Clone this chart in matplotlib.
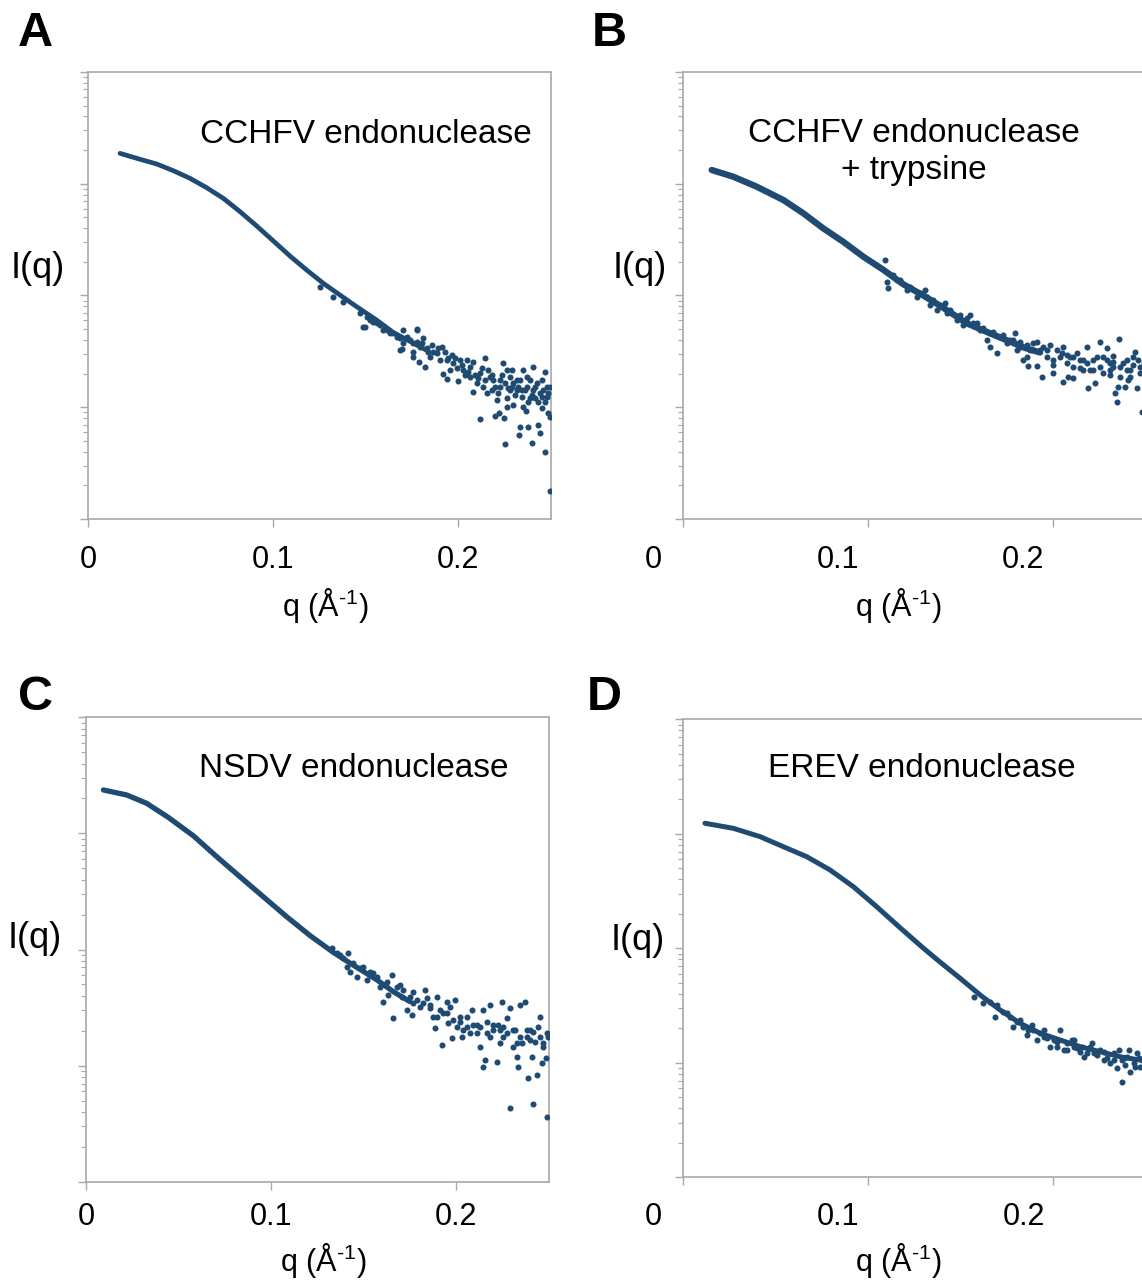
import numpy as np
import matplotlib
matplotlib.use('Agg')
import matplotlib.pyplot as plt
from matplotlib.ticker import LogLocator, NullFormatter, NullLocator, FixedLocator

plt.rcParams['font.family'] = ['Liberation Sans', 'DejaVu Sans']
plt.rcParams['mathtext.fontset'] = 'custom'
plt.rcParams['mathtext.rm'] = 'Liberation Sans'

# SAXS curves, q in 1/A, intensities stored as log10 I (arbitrary units)
# A: CCHFV endonuclease
q_trend_a = [0.0173, 0.0281, 0.0371, 0.0461, 0.0551, 0.0641, 0.0731, 0.0822, 0.0912, 0.1002,
             0.1092, 0.1182, 0.1272, 0.1362, 0.1452, 0.1560, 0.1650, 0.1740, 0.1830]
logI_trend_a = [-0.728, -0.781, -0.823, -0.883, -0.951, -1.035, -1.130, -1.250, -1.378, -1.512,
                -1.647, -1.772, -1.891, -1.996, -2.100, -2.220, -2.330, -2.410, -2.490]
noise_a = [(0.1254, -1.921), (0.1326, -2.011), (0.1380, -2.055), (0.1488, -2.279),
           (0.1686, -2.488), (0.1777, -2.309),
           (0.1472, -2.159), (0.1524, -2.219), (0.1497, -2.279), (0.1560, -2.249), (0.1596, -2.308),
           (0.1632, -2.338), (0.1668, -2.368), (0.1704, -2.308), (0.1704, -2.428), (0.1695, -2.481),
           (0.1740, -2.398), (0.1780, -2.302), (0.1758, -2.502), (0.1758, -2.547), (0.1776, -2.413),
           (0.1803, -2.428), (0.1791, -2.592), (0.1821, -2.643), (0.1830, -2.472), (0.1848, -2.547),
           (0.1866, -2.502), (0.1884, -2.517), (0.1902, -2.577), (0.1911, -2.458), (0.1920, -2.702),
           (0.1942, -2.750), (0.1947, -2.562), (0.1956, -2.666), (0.1974, -2.607), (0.1993, -2.651),
           (0.2002, -2.762), (0.2011, -2.577), (0.2029, -2.666), (0.2047, -2.577), (0.2065, -2.637),
           (0.2065, -2.726), (0.2083, -2.592), (0.2083, -2.860), (0.2101, -2.786), (0.2119, -2.696),
           (0.2119, -3.108), (0.2128, -2.651), (0.2137, -2.816), (0.2146, -2.562), (0.2155, -2.875),
           (0.2164, -2.666), (0.2173, -2.726), (0.2182, -2.845), (0.2191, -2.756), (0.2200, -3.078),
           (0.2209, -2.935), (0.2218, -2.875), (0.2223, -3.054), (0.2227, -2.816), (0.2236, -2.711),
           (0.2245, -2.607), (0.2248, -3.093), (0.2254, -3.332), (0.2263, -2.920), (0.2263, -2.995),
           (0.2272, -2.830), (0.2281, -2.726), (0.2290, -2.666), (0.2299, -2.786), (0.2299, -2.980),
           (0.2308, -2.890), (0.2317, -2.845), (0.2331, -3.248), (0.2335, -2.756), (0.2335, -3.173),
           (0.2344, -2.905), (0.2353, -2.666), (0.2353, -2.995), (0.2366, -3.030), (0.2371, -2.816),
           (0.2380, -2.950), (0.2380, -3.173), (0.2389, -2.920), (0.2402, -3.323), (0.2407, -2.637),
           (0.2407, -2.845), (0.2416, -2.816), (0.2416, -2.920), (0.2434, -3.159), (0.2443, -2.875),
           (0.2443, -3.233), (0.2452, -2.756), (0.2452, -2.905), (0.2456, -3.009), (0.2470, -2.681),
           (0.2470, -2.950), (0.2472, -3.403), (0.2479, -2.816), (0.2488, -2.875), (0.2488, -3.048),
           (0.2496, -3.084), (0.2497, -3.746),
           (0.1506, -2.189), (0.1542, -2.234), (0.1578, -2.264), (0.1614, -2.308), (0.1650, -2.338),
           (0.1686, -2.383), (0.1722, -2.368), (0.1758, -2.428), (0.1794, -2.458), (0.1812, -2.383),
           (0.1839, -2.502), (0.1857, -2.443), (0.1893, -2.472), (0.1929, -2.502), (0.1938, -2.577),
           (0.1965, -2.532), (0.1984, -2.562), (0.2020, -2.622), (0.2038, -2.711), (0.2056, -2.681),
           (0.2092, -2.711), (0.2110, -2.741), (0.2146, -2.756), (0.2182, -2.711), (0.2200, -2.816),
           (0.2227, -2.756), (0.2254, -2.786), (0.2281, -2.845), (0.2317, -2.756), (0.2326, -2.816),
           (0.2362, -2.845), (0.2389, -2.756), (0.2425, -2.786), (0.2434, -2.950), (0.2461, -2.845),
           (0.2479, -2.905), (0.2497, -2.816), (0.2263, -2.666), (0.2290, -2.816), (0.2344, -2.845),
           (0.2371, -2.726), (0.2398, -2.890)]

# B: CCHFV endonuclease + trypsine
q_trend_b = [0.0155, 0.0272, 0.0398, 0.0542, 0.0650, 0.0758, 0.0866, 0.0975, 0.1083,
             0.1191, 0.1299, 0.1407, 0.1534, 0.1659, 0.1750, 0.1850, 0.1930]
logI_trend_b = [-0.877, -0.937, -1.026, -1.145, -1.264, -1.399, -1.519, -1.653, -1.770,
                -1.900, -2.000, -2.110, -2.249, -2.338, -2.400, -2.470, -2.510]
noise_b = [(0.1092, -1.682), (0.1101, -1.876), (0.1110, -1.936), (0.1155, -1.861), (0.1209, -1.951),
           (0.1263, -2.011), (0.1308, -1.951), (0.1335, -2.085), (0.1371, -2.130), (0.1416, -2.070),
           (0.1425, -2.160), (0.1479, -2.219), (0.1515, -2.264), (0.1551, -2.175), (0.1570, -2.249),
           (0.1606, -2.309), (0.1642, -2.398), (0.1660, -2.339), (0.1660, -2.458), (0.1696, -2.518),
           (0.1714, -2.369), (0.1768, -2.398), (0.1795, -2.339), (0.1804, -2.488), (0.1822, -2.458),
           (0.1840, -2.577), (0.1858, -2.547), (0.1867, -2.631), (0.1876, -2.488), (0.1894, -2.488),
           (0.1912, -2.413), (0.1912, -2.631), (0.1930, -2.488), (0.1939, -2.727), (0.1966, -2.547),
           (0.1984, -2.443), (0.2002, -2.577), (0.2002, -2.697), (0.2038, -2.547), (0.2056, -2.458),
           (0.2056, -2.771), (0.2074, -2.607), (0.2083, -2.727), (0.2092, -2.547), (0.2110, -2.742),
           (0.2128, -2.518), (0.2146, -2.577), (0.2146, -2.652), (0.2164, -2.667), (0.2182, -2.458),
           (0.2191, -2.831), (0.2200, -2.667), (0.2218, -2.577), (0.2227, -2.786), (0.2254, -2.413),
           (0.2254, -2.637), (0.2272, -2.547), (0.2290, -2.473), (0.2308, -2.607), (0.2308, -2.712),
           (0.2326, -2.541), (0.2326, -2.637), (0.2335, -2.876), (0.2344, -2.950), (0.2353, -2.816),
           (0.2359, -2.392), (0.2362, -2.727), (0.2380, -2.607), (0.2389, -2.816), (0.2398, -2.577),
           (0.2407, -2.756), (0.2416, -2.667), (0.2434, -2.547), (0.2443, -2.503), (0.2452, -2.831),
           (0.2461, -2.577), (0.2470, -2.637), (0.2481, -3.040), (0.2490, -2.600), (0.2495, -2.700),
           (0.1137, -1.817), (0.1173, -1.861), (0.1227, -1.921), (0.1281, -1.981), (0.1317, -2.011),
           (0.1353, -2.040), (0.1389, -2.085), (0.1443, -2.130), (0.1497, -2.175), (0.1533, -2.204),
           (0.1588, -2.249), (0.1624, -2.294), (0.1678, -2.324), (0.1732, -2.354), (0.1750, -2.428),
           (0.1786, -2.398), (0.1822, -2.413), (0.1858, -2.443), (0.1894, -2.428), (0.1948, -2.458),
           (0.1966, -2.488), (0.2020, -2.488), (0.2047, -2.518), (0.2074, -2.533), (0.2110, -2.547),
           (0.2164, -2.577), (0.2182, -2.607), (0.2236, -2.547), (0.2290, -2.577), (0.2326, -2.592),
           (0.2362, -2.637), (0.2398, -2.667), (0.2434, -2.622), (0.2470, -2.697), (0.2002, -2.622),
           (0.2110, -2.637), (0.2218, -2.667), (0.2272, -2.697), (0.2308, -2.667), (0.2416, -2.727)]

# C: NSDV endonuclease
q_trend_c = [0.0094, 0.0220, 0.0328, 0.0443, 0.0580, 0.0707, 0.0832, 0.0958, 0.1085,
             0.1211, 0.1337, 0.1445, 0.1571, 0.1661, 0.1751]
logI_trend_c = [-0.626, -0.669, -0.741, -0.860, -1.020, -1.201, -1.373, -1.545, -1.718,
                -1.880, -2.025, -2.135, -2.260, -2.363, -2.449]
noise_c = [(0.1328, -1.990), (0.1373, -2.047), (0.1418, -2.033), (0.1409, -2.148), (0.1427, -2.191),
           (0.1463, -2.234), (0.1499, -2.148), (0.1517, -2.263), (0.1553, -2.205), (0.1589, -2.320),
           (0.1607, -2.449), (0.1634, -2.392), (0.1652, -2.220), (0.1661, -2.593), (0.1697, -2.306),
           (0.1706, -2.406), (0.1733, -2.521), (0.1760, -2.564), (0.1769, -2.363), (0.1805, -2.492),
           (0.1833, -2.349), (0.1842, -2.421), (0.1860, -2.478), (0.1878, -2.578), (0.1887, -2.679),
           (0.1896, -2.406), (0.1923, -2.823), (0.1932, -2.550), (0.1950, -2.449), (0.1959, -2.636),
           (0.1977, -2.765), (0.1995, -2.435), (0.2004, -2.665), (0.2022, -2.578), (0.2031, -2.751),
           (0.2058, -2.578), (0.2076, -2.722), (0.2085, -2.521), (0.2112, -2.650), (0.2130, -2.837),
           (0.2148, -2.521), (0.2148, -3.009), (0.2157, -2.952), (0.2166, -2.722), (0.2184, -2.478),
           (0.2202, -2.693), (0.2220, -2.966), (0.2229, -2.650), (0.2238, -2.808), (0.2247, -2.449),
           (0.2256, -2.751), (0.2274, -2.593), (0.2292, -2.507), (0.2292, -3.368), (0.2310, -2.837),
           (0.2319, -2.693), (0.2328, -2.923), (0.2337, -3.009), (0.2346, -2.478), (0.2355, -2.808),
           (0.2373, -2.449), (0.2382, -2.751), (0.2391, -3.110), (0.2400, -2.693), (0.2409, -2.923),
           (0.2415, -3.331), (0.2427, -2.794), (0.2436, -3.081), (0.2445, -2.665), (0.2454, -2.578),
           (0.2463, -2.980), (0.2472, -2.837), (0.2487, -2.937), (0.2490, -3.440), (0.2495, -2.751),
           (0.1355, -2.033), (0.1391, -2.076), (0.1445, -2.119), (0.1481, -2.162), (0.1535, -2.191),
           (0.1571, -2.234), (0.1625, -2.277), (0.1679, -2.320), (0.1715, -2.349), (0.1751, -2.406),
           (0.1787, -2.435), (0.1824, -2.464), (0.1860, -2.507), (0.1914, -2.521), (0.1950, -2.550),
           (0.1986, -2.607), (0.2022, -2.622), (0.2058, -2.665), (0.2094, -2.650), (0.2130, -2.665),
           (0.2166, -2.622), (0.2202, -2.650), (0.2238, -2.693), (0.2274, -2.722), (0.2310, -2.693),
           (0.2346, -2.751), (0.2382, -2.693), (0.2418, -2.708), (0.2454, -2.751), (0.2490, -2.722),
           (0.2040, -2.693), (0.2112, -2.722), (0.2184, -2.751), (0.2256, -2.665), (0.2328, -2.808),
           (0.2400, -2.779), (0.2472, -2.808), (0.1968, -2.492), (0.1896, -2.578), (0.1769, -2.464)]

# D: EREV endonuclease
q_trend_d = [0.0117, 0.0270, 0.0415, 0.0541, 0.0667, 0.0793, 0.0919, 0.1045, 0.1171, 0.1298,
             0.1387, 0.1496, 0.1604, 0.1712, 0.1820, 0.1928, 0.2036, 0.2144, 0.2252, 0.2360, 0.2468]
logI_trend_d = [-0.908, -0.952, -1.025, -1.113, -1.200, -1.316, -1.462, -1.637, -1.820, -2.000,
                -2.120, -2.262, -2.408, -2.539, -2.655, -2.742, -2.801, -2.859, -2.903, -2.947, -2.976]
noise_d = [(0.1685, -2.597), (0.1694, -2.495), (0.1748, -2.568), (0.1766, -2.597), (0.1802, -2.641),
           (0.1838, -2.685), (0.1856, -2.757), (0.1883, -2.670), (0.1892, -2.714), (0.1929, -2.743),
           (0.1947, -2.772), (0.1965, -2.786), (0.1983, -2.859), (0.2001, -2.801), (0.2019, -2.816),
           (0.2037, -2.714), (0.2055, -2.888), (0.2073, -2.830), (0.2100, -2.801), (0.2109, -2.859),
           (0.2127, -2.874), (0.2145, -2.903), (0.2163, -2.947), (0.2181, -2.917), (0.2199, -2.859),
           (0.2208, -2.830), (0.2235, -2.932), (0.2253, -2.888), (0.2271, -2.976), (0.2289, -2.961),
           (0.2307, -3.005), (0.2325, -2.917), (0.2343, -3.048), (0.2352, -2.888), (0.2370, -3.165),
           (0.2379, -2.961), (0.2388, -3.019), (0.2406, -2.888), (0.2415, -3.078), (0.2433, -3.005),
           (0.2451, -2.917), (0.2469, -3.034), (0.2478, -2.976),
           (0.1568, -2.423), (0.1622, -2.481), (0.1658, -2.466), (0.1730, -2.554), (0.1784, -2.685),
           (0.1820, -2.626), (0.1865, -2.714), (0.1910, -2.801), (0.1947, -2.714), (0.2019, -2.859),
           (0.2073, -2.888), (0.2109, -2.801), (0.2154, -2.859), (0.2217, -2.917), (0.2271, -2.903),
           (0.2325, -2.976), (0.2370, -2.976), (0.2397, -2.947), (0.2442, -3.034), (0.2460, -2.961)]

tick_vals = [0, 0.1, 0.2]
tick_labels = ['0', '0.1', '0.2']

W, H = 1142, 1283
fig = plt.figure(figsize=(W / 100, H / 100), dpi=100)
col = '#1f4b73'
grey = '#a8a8a8'


def fx(x):
    return x / W


def fy(y):
    return 1 - y / H


panels = [
    dict(box=(88, 72, 550.5, 519), q=q_trend_a, l=logI_trend_a, noise=noise_a, lw=3.4,
         letter='A', lpos=(35, 46), title=['CCHFV endonuclease'], tpos=(366, 142.7),
         ylab=(38, 268), tick_y=568, tick_dx=0, xlab=(325, 616)),
    dict(box=(683, 72, 1145.5, 519), q=q_trend_b, l=logI_trend_b, noise=noise_b, lw=4.6,
         letter='B', lpos=(609, 46), title=['CCHFV endonuclease', '+ trypsine'], tpos=(914, 141.7),
         ylab=(640, 268), tick_y=568, tick_dx=-30, xlab=(898, 616)),
    dict(box=(86, 717.3, 548.5, 1181.7), q=q_trend_c, l=logI_trend_c, noise=noise_c, lw=3.8,
         letter='C', lpos=(36, 710), title=['NSDV endonuclease'], tpos=(354, 777.3),
         ylab=(35, 938), tick_y=1225, tick_dx=0, xlab=(323, 1271)),
    dict(box=(683.3, 719.3, 1146, 1177.3), q=q_trend_d, l=logI_trend_d, noise=noise_d, lw=3.6,
         letter='D', lpos=(604, 710), title=['EREV endonuclease'], tpos=(921.5, 777.3),
         ylab=(638, 940), tick_y=1225, tick_dx=-30, xlab=(898, 1271)),
]

for p in panels:
    l, t, r, b = p['box']
    ax = fig.add_axes([fx(l), fy(b), (r - l) / W, (b - t) / H])
    ax.plot(p['q'], 10 ** np.array(p['l']), color=col, lw=p['lw'],
            solid_capstyle='round', solid_joinstyle='round', zorder=2)
    nq, nl = zip(*p['noise'])
    ax.scatter(nq, 10 ** np.array(nl), s=19, marker='o', color=col, linewidths=0, zorder=3)
    ax.set_yscale('log')
    ax.set_xlim(0, 0.25)
    ax.set_ylim(1e-4, 1)
    ax.yaxis.set_major_locator(LogLocator(base=10, numticks=10))
    ax.yaxis.set_minor_locator(LogLocator(base=10, subs=np.arange(2, 10), numticks=10))
    ax.yaxis.set_major_formatter(NullFormatter())
    ax.yaxis.set_minor_formatter(NullFormatter())
    ax.xaxis.set_major_locator(FixedLocator(tick_vals))
    ax.xaxis.set_minor_locator(NullLocator())
    ax.xaxis.set_major_formatter(NullFormatter())
    ax.tick_params(which='major', length=5.5, width=1, color=grey, direction='out')
    ax.tick_params(which='minor', length=3.5, width=0.8, color=grey, direction='out')
    for s in ax.spines.values():
        s.set_color(grey)
        s.set_linewidth(1.2)

    # tick labels (placed in pixels so they can be offset like the original)
    for tv, tl in zip(tick_vals, tick_labels):
        xd = ax.transData.transform((tv, 1e-2))[0]
        fig.text(fx(xd + p['tick_dx']), fy(p['tick_y']), tl, ha='center', va='baseline', fontsize=22)
    fig.text(fx(p['xlab'][0]), fy(p['xlab'][1]), 'q (Å$^{\\mathregular{\u20101}}$)',
             ha='center', va='baseline', fontsize=22)
    fig.text(fx(p['ylab'][0]), fy(p['ylab'][1]), 'I(q)', ha='center', va='center', fontsize=26)
    fig.text(fx(p['lpos'][0]), fy(p['lpos'][1]), p['letter'], ha='center', va='baseline',
             fontsize=35, fontweight='bold')
    for i, line in enumerate(p['title']):
        fig.text(fx(p['tpos'][0]), fy(p['tpos'][1] + 37 * i), line, ha='center', va='baseline',
                 fontsize=24)

fig.savefig('out.png', dpi=100)
